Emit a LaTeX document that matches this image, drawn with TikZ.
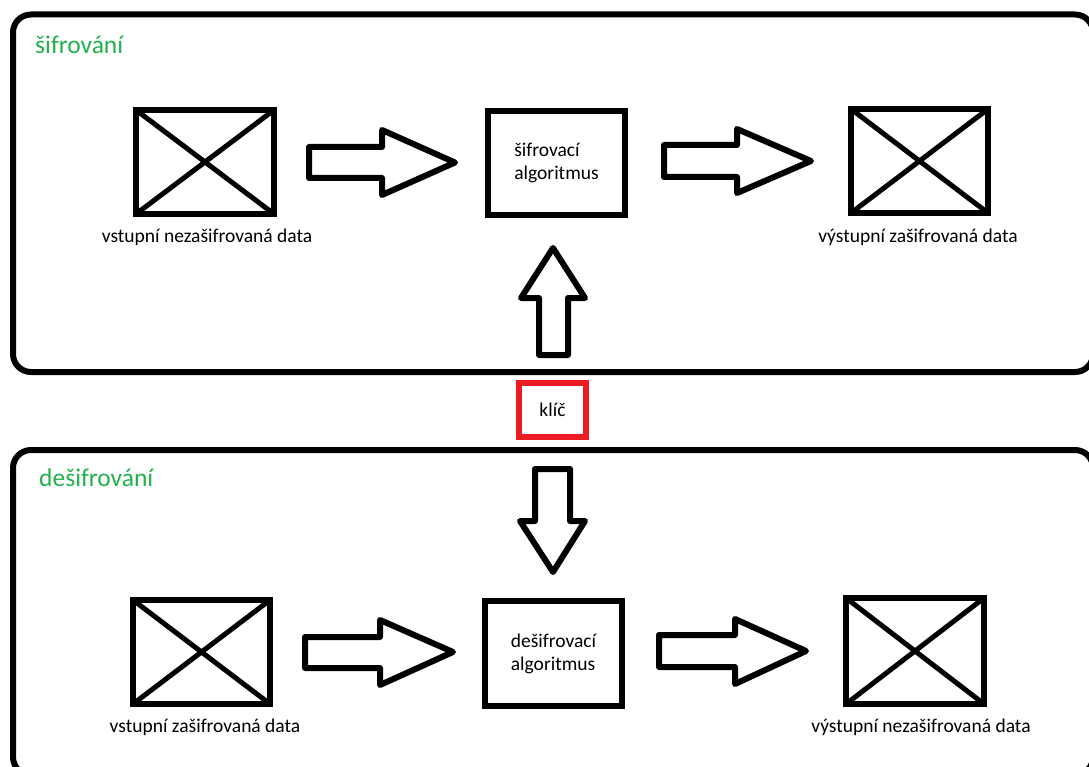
\documentclass[tikz,border=0pt]{standalone}
\usepackage{fontspec}
\setmainfont{Carlito}
\definecolor{paintgreen}{RGB}{34,177,76}
\definecolor{paintred}{RGB}{237,28,36}
\tikzset{
  frame/.style={draw=black, line width=6pt, rounded corners=18pt},
  databox/.style={draw=black, line width=6pt, inner sep=0pt, outer sep=0pt,
    minimum width=138pt, minimum height=104pt},
  algbox/.style={draw=black, line width=6pt, inner sep=0pt,
    minimum width=137pt, minimum height=104pt, align=left,
    font=\fontsize{19.5}{23}\selectfont},
  cross/.style={draw=black, line width=5pt},
  blockarrow/.style={draw=black, fill=white, line width=6pt, line join=round},
  caption/.style={inner sep=0pt, font=\fontsize{19.5}{23}\selectfont},
  title/.style={inner sep=0pt, anchor=west, text=paintgreen,
    font=\fontsize{25.5}{30}\selectfont},
  keybox/.style={draw=paintred, line width=6pt, inner sep=0pt,
    minimum width=67pt, minimum height=54pt,
    font=\fontsize{19.5}{23}\selectfont}
}
\begin{document}
\begin{tikzpicture}[x=1pt,y=-1pt]
\useasboundingbox (0,0) rectangle (1089,767);
\fill[white] (0,0) rectangle (1089,767);

% section frames
\draw[frame] (13,14.5) rectangle (1093,372);
\draw[frame] (13,450) rectangle (1093,775);
\node[title] (encT) at (35,45) {šifrování};
\node[title] (decT) at (39,478) {dešifrování};

% encryption row
\node[databox] (inA) at (205,162) {};
\draw[cross] (inA.north west) -- (inA.south east) (inA.south west) -- (inA.north east);
\node[caption] (inAl) at (207,237) {vstupní nezašifrovaná data};
\node[algbox] (algA) at (556.5,163) {šifrovací\\algoritmus};
\node[databox, minimum width=137pt] (outA) at (919.5,161) {};
\draw[cross] (outA.north west) -- (outA.south east) (outA.south west) -- (outA.north east);
\node[caption] (outAl) at (918,237) {výstupní zašifrovaná data};

\draw[blockarrow] (309,147) -- (382,147) -- (382,130) -- (455,162.5)
  -- (382,195) -- (382,178) -- (309,178) -- cycle;
\draw[blockarrow] (664,145) -- (737,145) -- (737,129) -- (811,161)
  -- (737,193) -- (737,177) -- (664,177) -- cycle;

% key
\node[keybox] (key) at (552.5,410) {klíč};
\draw[blockarrow] (553,248) -- (585,298) -- (568,298) -- (568,355)
  -- (539,355) -- (539,298) -- (521,298) -- cycle;
\draw[blockarrow] (553,572) -- (585,521) -- (570,521) -- (570,469)
  -- (535,469) -- (535,521) -- (520,521) -- cycle;

% decryption row
\node[databox, minimum width=137pt] (inB) at (201.5,652) {};
\draw[cross] (inB.north west) -- (inB.south east) (inB.south west) -- (inB.north east);
\node[caption] (inBl) at (205,727) {vstupní zašifrovaná data};
\node[algbox, minimum height=105pt] (algB) at (553.5,653.5) {dešifrovací\\algoritmus};
\node[databox, minimum height=106pt] (outB) at (915,651) {};
\draw[cross] (outB.north west) -- (outB.south east) (outB.south west) -- (outB.north east);
\node[caption] (outBl) at (921,727) {výstupní nezašifrovaná data};

\draw[blockarrow] (305,637) -- (380,637) -- (380,620) -- (453,652)
  -- (380,685) -- (380,668) -- (305,668) -- cycle;
\draw[blockarrow] (659,635) -- (735,635) -- (735,619) -- (806,651)
  -- (735,684) -- (735,667) -- (659,667) -- cycle;
\end{tikzpicture}
\end{document}
